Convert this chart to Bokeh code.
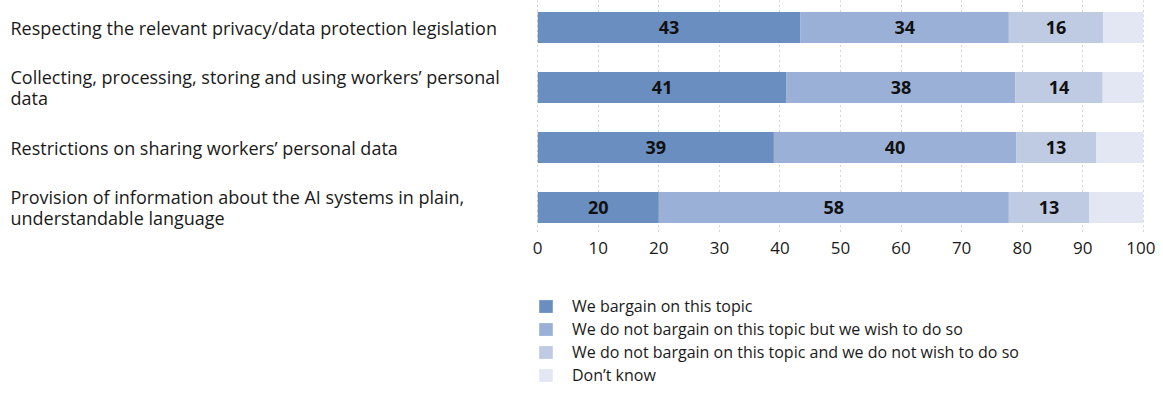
from bokeh.plotting import figure
from bokeh.models import (ColumnDataSource, Range1d, FixedTicker, Legend, LegendItem)
from bokeh.layouts import column, row
from bokeh.core.properties import value
from bokeh.embed import file_html
from bokeh.resources import INLINE

categories = [
    "Respecting the relevant privacy/data protection legislation",
    "Collecting, processing, storing and using workers\u2019 personal\ndata",
    "Restrictions on sharing workers\u2019 personal data",
    "Provision of information about the AI systems in plain,\nunderstandable language",
]
series_names = [
    "We bargain on this topic",
    "We do not bargain on this topic but we wish to do so",
    "We do not bargain on this topic and we do not wish to do so",
    "Don\u2019t know",
]
bargain = [43.4, 41.1, 39.0, 20.0]
wish = [34.4, 37.8, 40.0, 57.8]
no_wish = [15.6, 14.4, 13.2, 13.3]
dont_know = [6.6, 6.7, 7.8, 8.9]
x_ticks = [0, 10, 20, 30, 40, 50, 60, 70, 80, 90, 100]

colors = ["#6a8ec0", "#9bb0d7", "#bfcae3", "#e2e7f3"]
FONT = "Open Sans"
TXT = "#1a1a1a"

TOTAL_W = 1155
LABEL_W = 527          # width of the category-label column
FRAME_H = 232
TOP_H = 270
PX_PER_ROW = 60.0
y_top = -0.45
y_bottom = y_top + FRAME_H / PX_PER_ROW

ys = list(range(len(categories)))
keys = ["s0", "s1", "s2", "s3"]
source = ColumnDataSource({"y": ys, "s0": bargain, "s1": wish, "s2": no_wish, "s3": dont_know,
                           "cat": categories})

# --- bars
p = figure(width=TOTAL_W - LABEL_W, height=TOP_H, output_backend="svg", toolbar_location=None,
           x_range=Range1d(-0.2, 100.2), y_range=Range1d(y_bottom, y_top),
           y_axis_location=None, min_border_left=9, min_border_right=11,
           min_border_top=0, min_border_bottom=TOP_H - FRAME_H, outline_line_color=None)

renderers = p.hbar_stack(keys, y="y", height=0.52, source=source, color=colors, line_color=None)

lx, ly, lt = [], [], []
for i in ys:
    left = 0
    for v in (bargain[i], wish[i], no_wish[i]):
        lx.append(left + v / 2)
        ly.append(i)
        lt.append(str(round(v)))
        left += v
p.text(x=lx, y=ly, text=lt, text_align="center", text_baseline="middle",
       text_font=value(FONT), text_font_size="18px", text_font_style="bold", text_color="#111111")

p.xaxis.ticker = FixedTicker(ticks=x_ticks)
p.xaxis.axis_line_color = None
p.xaxis.major_tick_line_color = None
p.xaxis.minor_tick_line_color = None
p.xaxis.major_label_standoff = 3
p.xaxis.major_label_text_font = FONT
p.xaxis.major_label_text_font_size = "17px"
p.xaxis.major_label_text_color = TXT

p.xgrid.ticker = FixedTicker(ticks=x_ticks)
p.xgrid.grid_line_color = "#a8a8a8"
p.xgrid.grid_line_dash = "1 4"
p.ygrid.visible = False

# --- category label column (shares the bars' vertical scale)
pl = figure(width=LABEL_W, height=TOP_H, output_backend="svg", toolbar_location=None,
            x_range=Range1d(0, LABEL_W), y_range=p.y_range,
            x_axis_location=None, y_axis_location=None, min_border=0,
            min_border_bottom=TOP_H - FRAME_H, outline_line_color=None)
pl.xgrid.visible = False
pl.ygrid.visible = False
pl.text(x=10, y="y", text="cat", source=source, text_align="left", text_baseline="middle",
        text_font=value(FONT), text_font_size="18px", text_color=TXT, text_line_height=0.9)

# --- legend
p2 = figure(width=TOTAL_W, height=130, output_backend="svg", toolbar_location=None,
            x_axis_location=None, y_axis_location=None, min_border=0,
            outline_line_color=None, x_range=Range1d(0, 1), y_range=Range1d(0, 1))
p2.xgrid.visible = False
p2.ygrid.visible = False
items = []
for name, c in zip(series_names, colors):
    r = p2.hbar(y=[0], left=[0], right=[0], height=0, fill_color=c, line_color=None)
    items.append(LegendItem(label=name, renderers=[r]))
legend = Legend(items=items, location=(537, 14), orientation="vertical",
                glyph_width=17, glyph_height=16, label_height=16, label_standoff=18,
                spacing=1, padding=0, margin=0, border_line_color=None,
                background_fill_alpha=0, label_text_font=FONT, label_text_font_size="16px",
                label_text_color=TXT)
p2.add_layout(legend, "center")

layout = column(row(pl, p, spacing=0), p2, spacing=0)
open("out.html", "w").write(file_html(layout, INLINE))
